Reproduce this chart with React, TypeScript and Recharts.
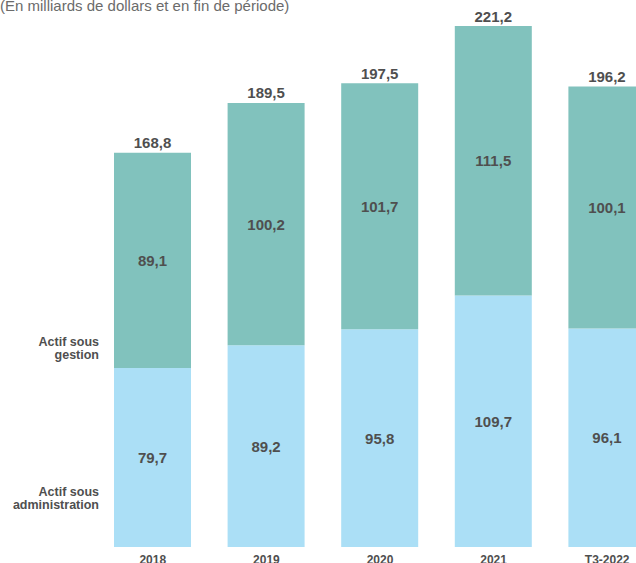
import React from 'react';
import { BarChart, Bar, XAxis, YAxis, LabelList, Customized } from 'recharts';

const categories = ['2018', '2019', '2020', '2021', 'T3-2022'];
const administration = [79.7, 89.2, 95.8, 109.7, 96.1];
const gestion = [89.1, 100.2, 101.7, 111.5, 100.1];
const totals = [168.8, 189.5, 197.5, 221.2, 196.2];

const title = '(En milliards de dollars et en fin de période)';
const labelGestion = ['Actif sous', 'gestion'];
const labelAdmin = ['Actif sous', 'administration'];

const data = categories.map((c, i) => ({
  name: c,
  admin: administration[i],
  gestion: gestion[i],
  total: totals[i],
}));

const FONT = '"Liberation Sans", Arial, sans-serif';
const TEXT = '#4f4f4f';
const CHART_H = 563;
const MARGIN = { top: 26, right: 0, bottom: 0, left: 96 };
const XAXIS_H = 16;
const PLOT_BOTTOM = CHART_H - MARGIN.bottom - XAXIS_H;

const fmt = (v: number) => v.toFixed(1).replace('.', ',');

const InsideLabel = (props: any) => {
  const { x, y, width, height, value } = props;
  const bottom = Math.min(y + height, PLOT_BOTTOM);
  const cy = (y + bottom) / 2;
  return (
    <text x={x + width / 2} y={cy} textAnchor="middle" dominantBaseline="central"
      fontFamily={FONT} fontWeight="bold" fontSize={15} fill={TEXT}>
      {fmt(value)}
    </text>
  );
};

const TopLabel = (props: any) => {
  const { x, y, width, value } = props;
  return (
    <text x={x + width / 2} y={y - 4.5} textAnchor="middle"
      fontFamily={FONT} fontWeight="bold" fontSize={15} fill={TEXT}>
      {fmt(value)}
    </text>
  );
};

const Extras = () => (
  <g>
    <text x={0} y={10.5} fontFamily={FONT} fontSize={15} fill="#6b6b6b">{title}</text>
    {labelGestion.map((t, i) => (
      <text key={'g' + i} x={99} y={346 + i * 13} textAnchor="end"
        fontFamily={FONT} fontWeight="bold" fontSize={12.5} fill={TEXT}>{t}</text>
    ))}
    {labelAdmin.map((t, i) => (
      <text key={'a' + i} x={99} y={496 + i * 13} textAnchor="end"
        fontFamily={FONT} fontWeight="bold" fontSize={12.5} fill={TEXT}>{t}</text>
    ))}
  </g>
);

export default function App() {
  return (
    <div style={{ position: 'absolute', left: 0, top: 0, width: 636, height: 563, overflow: 'hidden', background: '#fff' }}>
      <BarChart width={664} height={CHART_H} data={data} margin={MARGIN} barSize={77}>
        <XAxis dataKey="name" height={XAXIS_H} axisLine={false} tickLine={false} tickSize={6} tickMargin={2}
          tick={{ fontFamily: FONT, fontWeight: 'bold', fontSize: 12, fill: TEXT }} interval={0} />
        <YAxis type="number" hide width={0} domain={[5.7, 221.2]} allowDataOverflow />
        <Bar dataKey="admin" stackId="a" fill="#abdff6" isAnimationActive={false}>
          <LabelList dataKey="admin" content={InsideLabel} />
        </Bar>
        <Bar dataKey="gestion" stackId="a" fill="#81c2bd" isAnimationActive={false}>
          <LabelList dataKey="gestion" content={InsideLabel} />
          <LabelList dataKey="total" content={TopLabel} />
        </Bar>
        <Customized component={Extras} />
      </BarChart>
    </div>
  );
}
